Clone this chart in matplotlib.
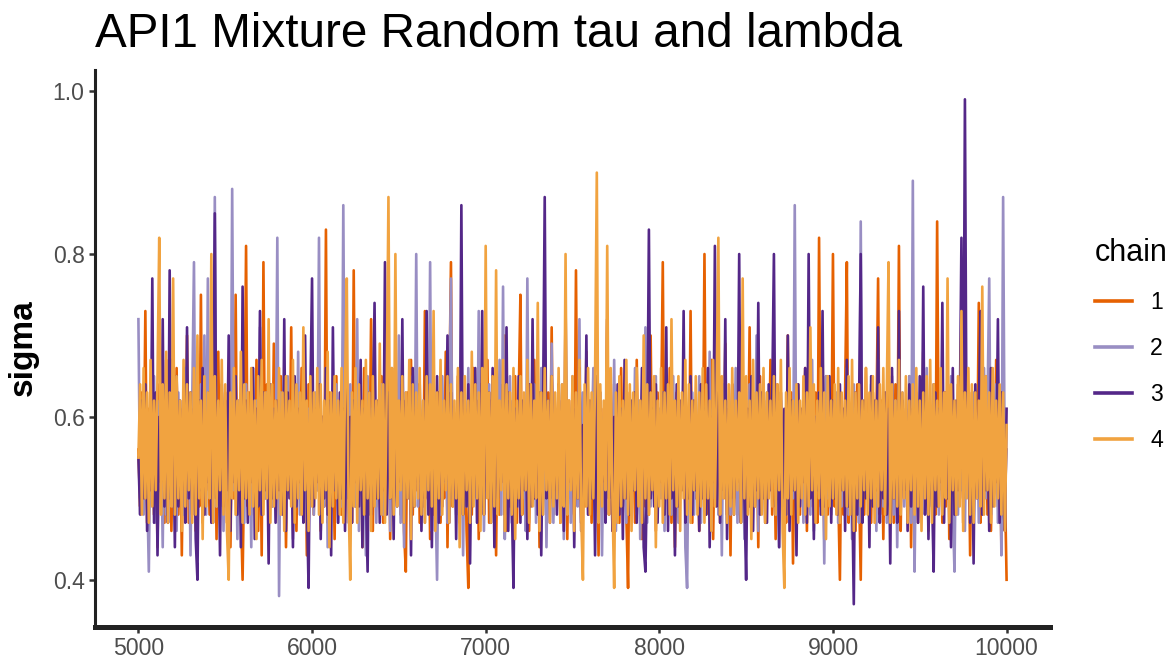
import numpy as np
import matplotlib
matplotlib.use("Agg")
import matplotlib.pyplot as plt

plt.rcParams['font.family'] = ['Liberation Sans', 'DejaVu Sans']

# trace of sigma, every 10th iteration from 5000 to 10000, in hundredths
start_iter = 5000
thin = 10

chain1 = [
    56, 49, 63, 51, 73, 47, 61, 50, 65, 48, 59, 44, 64, 52, 60, 47, 67, 50, 62, 46,
    58, 51, 66, 48, 61, 43, 63, 50, 70, 47, 60, 52, 64, 46, 59, 49, 75, 47, 62, 51,
    57, 48, 64, 50, 61, 45, 68, 49, 60, 52, 63, 47, 66, 44, 61, 50, 75, 48, 62, 49,
    40, 55, 81, 49, 63, 48, 60, 51, 67, 46, 62, 43, 79, 50, 64, 47, 61, 49, 69, 52,
    58, 47, 65, 50, 62, 44, 60, 52, 71, 48, 63, 46, 59, 51, 66, 49, 61, 43, 64, 50,
    57, 48, 62, 51, 67, 46, 60, 49, 83, 47, 63, 50, 58, 45, 65, 52, 61, 48, 70, 47,
    62, 50, 59, 47, 78, 49, 64, 52, 60, 44, 66, 48, 61, 51, 72, 46, 63, 49, 58, 50,
    65, 47, 61, 51, 68, 45, 62, 49, 59, 52, 64, 48, 60, 46, 41, 63, 50, 67, 48, 61,
    51, 64, 47, 60, 49, 73, 50, 62, 45, 66, 48, 61, 52, 63, 47, 59, 50, 68, 44, 62,
    79, 49, 60, 51, 65, 47, 63, 50, 58, 46, 39, 61, 48, 66, 52, 62, 45, 64, 49, 60,
    51, 67, 47, 62, 50, 59, 43, 64, 48, 61, 52, 70, 46, 63, 49, 60, 51, 65, 47, 62,
    75, 48, 61, 50, 64, 46, 60, 52, 67, 49, 62, 44, 59, 51, 66, 47, 63, 50, 71, 48,
    60, 52, 64, 47, 61, 49, 66, 45, 62, 50, 59, 48, 78, 51, 63, 46, 60, 49, 68, 50,
    62, 47, 65, 51, 59, 43, 63, 49, 61, 52, 72, 48, 60, 46, 64, 50, 58, 47, 66, 51,
    61, 48, 39, 63, 50, 60, 47, 67, 52, 62, 45, 59, 49, 64, 48, 70, 51, 61, 46, 63,
    50, 59, 79, 48, 62, 51, 66, 47, 60, 44, 63, 49, 58, 52, 65, 48, 61, 50, 73, 47,
    62, 50, 59, 46, 64, 51, 80, 48, 61, 49, 67, 45, 60, 52, 63, 47, 59, 50, 69, 48,
    61, 43, 64, 50, 60, 48, 66, 51, 62, 47, 58, 52, 71, 46, 63, 49, 60, 44, 65, 50,
    59, 47, 62, 51, 67, 48, 60, 45, 64, 50, 61, 52, 58, 47, 70, 49, 63, 42, 61, 50,
    64, 48, 60, 52, 66, 46, 62, 49, 59, 51, 63, 47, 82, 50, 61, 45, 65, 48, 60, 52,
    80, 49, 62, 51, 40, 60, 48, 63, 79, 47, 61, 50, 58, 46, 64, 52, 40, 62, 48, 66,
    50, 61, 47, 63, 52, 59, 77, 48, 62, 45, 60, 51, 66, 49, 61, 47, 64, 50, 81, 46,
    62, 50, 59, 48, 65, 44, 61, 52, 63, 47, 60, 49, 68, 51, 62, 46, 59, 50, 64, 48,
    84, 51, 60, 47, 63, 49, 66, 45, 61, 52, 59, 48, 64, 50, 72, 47, 62, 51, 60, 43,
    63, 49, 61, 52, 74, 47, 60, 50, 65, 48, 62, 46, 59, 51, 67, 49, 61, 44, 64, 52,
    40,
]

chain2 = [
    72, 50, 61, 48, 63, 52, 41, 60, 49, 65, 47, 62, 51, 59, 44, 64, 48, 61, 50, 67,
    49, 60, 46, 63, 51, 58, 48, 66, 50, 61, 43, 62, 79, 47, 60, 52, 64, 49, 70, 48,
    77, 51, 62, 47, 87, 49, 60, 52, 63, 46, 59, 50, 65, 48, 88, 51, 61, 45, 62, 50,
    60, 47, 64, 51, 59, 44, 66, 49, 62, 52, 71, 48, 60, 50, 63, 46, 61, 49, 58, 52,
    82, 38, 63, 50, 61, 47, 65, 51, 59, 45, 62, 49, 68, 48, 60, 52, 64, 46, 61, 50,
    59, 48, 63, 51, 82, 47, 60, 49, 66, 44, 62, 50, 58, 52, 64, 47, 61, 49, 86, 50,
    61, 47, 64, 52, 59, 49, 72, 46, 62, 50, 60, 43, 65, 48, 61, 51, 63, 47, 59, 50,
    64, 48, 61, 52, 58, 46, 66, 49, 62, 50, 70, 47, 60, 44, 63, 51, 59, 48, 65, 50,
    80, 49, 61, 52, 62, 47, 59, 50, 79, 46, 63, 51, 40, 60, 48, 65, 52, 61, 47, 62,
    77, 50, 60, 48, 64, 51, 59, 43, 62, 49, 66, 47, 61, 52, 58, 50, 73, 48, 63, 46,
    60, 51, 64, 47, 59, 49, 62, 52, 67, 48, 76, 45, 60, 50, 65, 47, 62, 51, 59, 49,
    63, 50, 60, 46, 77, 49, 61, 52, 64, 47, 59, 51, 66, 48, 62, 44, 60, 50, 69, 47,
    61, 52, 58, 48, 64, 45, 62, 50, 60, 47, 65, 51, 59, 49, 72, 46, 63, 50, 61, 48,
    59, 51, 66, 47, 61, 49, 63, 43, 60, 52, 64, 48, 58, 50, 67, 46, 62, 51, 60, 49,
    64, 47, 61, 50, 59, 52, 66, 48, 62, 45, 60, 51, 71, 47, 63, 49, 58, 50, 65, 48,
    61, 50, 63, 46, 60, 52, 59, 48, 65, 49, 62, 47, 60, 51, 64, 44, 39, 61, 50, 63,
    48, 60, 51, 65, 47, 62, 49, 59, 52, 68, 46, 61, 50, 63, 48, 60, 43, 64, 51, 59,
    62, 48, 60, 51, 66, 47, 59, 50, 63, 45, 61, 52, 64, 48, 60, 49, 70, 46, 62, 51,
    59, 47, 63, 50, 61, 52, 65, 48, 60, 44, 62, 49, 58, 51, 64, 47, 61, 50, 86, 48,
    62, 50, 59, 47, 64, 51, 61, 48, 67, 46, 60, 52, 63, 49, 59, 42, 65, 50, 61, 48,
    60, 51, 63, 47, 62, 49, 59, 52, 66, 48, 61, 45, 64, 50, 60, 47, 84, 49, 62, 51,
    59, 48, 64, 50, 61, 46, 67, 52, 60, 49, 63, 47, 58, 51, 65, 48, 62, 44, 60, 50,
    63, 49, 61, 51, 65, 47, 89, 41, 60, 52, 62, 48, 59, 50, 66, 47, 61, 49, 64, 51,
    60, 48, 63, 50, 59, 52, 62, 47, 65, 49, 41, 61, 48, 60, 51, 64, 46, 62, 50, 59,
    48, 63, 51, 60, 47, 62, 49, 66, 50, 61, 77, 48, 59, 52, 64, 47, 61, 43, 87, 50,
    56,
]

chain3 = [
    55, 48, 62, 50, 64, 46, 59, 51, 77, 47, 63, 43, 60, 52, 72, 49, 61, 47, 78, 50,
    60, 44, 65, 49, 62, 51, 58, 47, 71, 50, 63, 48, 61, 45, 40, 62, 51, 66, 48, 60,
    52, 63, 47, 61, 85, 50, 59, 43, 64, 49, 62, 51, 70, 46, 60, 52, 65, 48, 61, 44,
    76, 50, 62, 47, 60, 52, 66, 45, 61, 49, 73, 48, 63, 51, 59, 42, 64, 50, 61, 47,
    62, 51, 59, 48, 72, 46, 63, 50, 60, 44, 65, 49, 61, 52, 58, 47, 70, 50, 39, 62,
    77, 49, 61, 52, 64, 45, 60, 50, 66, 48, 62, 43, 71, 51, 59, 47, 63, 50, 61, 46,
    64, 50, 60, 47, 62, 52, 59, 49, 67, 44, 61, 51, 41, 63, 48, 60, 74, 50, 62, 47,
    60, 51, 79, 48, 63, 50, 61, 45, 65, 49, 59, 52, 72, 47, 62, 50, 60, 43, 66, 49,
    61, 52, 64, 46, 59, 50, 73, 48, 62, 44, 60, 51, 65, 47, 61, 49, 58, 52, 70, 47,
    63, 50, 60, 45, 62, 51, 86, 48, 61, 49, 64, 42, 59, 52, 66, 47, 62, 50, 73, 48,
    60, 51, 63, 47, 66, 44, 61, 50, 59, 52, 64, 48, 71, 46, 62, 50, 39, 61, 49, 65,
    47, 62, 51, 60, 45, 64, 49, 72, 50, 61, 48, 63, 43, 60, 87, 50, 62, 47, 65, 51,
    59, 48, 64, 50, 62, 46, 74, 49, 60, 52, 63, 44, 61, 50, 66, 47, 59, 51, 70, 48,
    62, 50, 60, 43, 65, 49, 61, 52, 58, 47, 72, 50, 63, 46, 60, 51, 64, 48, 61, 45,
    67, 50, 59, 48, 62, 51, 63, 47, 60, 52, 66, 44, 41, 55, 83, 50, 61, 49, 64, 47,
    60, 52, 63, 48, 71, 46, 61, 50, 59, 43, 64, 49, 62, 51, 73, 47, 60, 50, 65, 48,
    62, 51, 59, 46, 64, 50, 61, 48, 66, 44, 60, 52, 81, 49, 63, 47, 60, 51, 72, 45,
    61, 50, 64, 48, 59, 52, 80, 47, 62, 50, 40, 61, 49, 65, 46, 60, 51, 74, 48, 63,
    50, 60, 47, 64, 51, 62, 80, 49, 59, 44, 63, 50, 61, 48, 70, 46, 62, 51, 60, 43,
    64, 49, 61, 52, 66, 47, 80, 50, 62, 45, 60, 51, 63, 48, 73, 49, 59, 52, 65, 47,
    62, 50, 59, 48, 64, 51, 61, 46, 67, 49, 60, 52, 37, 63, 48, 61, 80, 47, 62, 50,
    60, 44, 65, 49, 62, 51, 71, 47, 59, 50, 63, 48, 61, 42, 66, 50, 60, 47, 73, 49,
    62, 51, 59, 46, 64, 49, 61, 52, 60, 47, 65, 50, 76, 48, 62, 45, 60, 51, 41, 63,
    49, 61, 52, 74, 47, 63, 50, 60, 44, 66, 48, 62, 51, 59, 82, 50, 99, 54, 62, 47,
    60, 42, 64, 50, 61, 73, 48, 62, 51, 59, 46, 66, 49, 60, 52, 72, 47, 63, 50, 46,
    61,
]

chain4 = [
    55, 64, 48, 66, 50, 63, 47, 67, 49, 62, 51, 65, 82, 48, 64, 50, 68, 47, 63, 49,
    77, 48, 65, 50, 62, 46, 67, 49, 64, 51, 63, 47, 66, 48, 70, 50, 62, 45, 65, 49,
    63, 50, 80, 47, 65, 49, 62, 51, 67, 48, 64, 46, 40, 63, 50, 66, 48, 62, 51, 68,
    47, 64, 50, 63, 48, 66, 49, 62, 45, 65, 51, 67, 48, 63, 50, 72, 47, 64, 49, 62,
    50, 66, 48, 63, 46, 65, 51, 62, 49, 67, 47, 64, 50, 63, 48, 71, 51, 62, 46, 65,
    49, 63, 50, 66, 48, 64, 47, 62, 51, 68, 44, 63, 49, 65, 50, 62, 48, 66, 47, 64,
    77, 50, 40, 63, 49, 66, 47, 64, 51, 62, 48, 67, 50, 63, 46, 65, 49, 62, 50, 69,
    48, 64, 47, 63, 87, 50, 66, 48, 80, 49, 62, 51, 65, 47, 63, 50, 67, 45, 64, 49,
    63, 50, 66, 48, 62, 47, 65, 51, 64, 49, 73, 46, 63, 50, 67, 48, 62, 51, 65, 47,
    64, 49, 62, 50, 66, 44, 63, 48, 65, 51, 62, 47, 68, 49, 64, 50, 63, 46, 66, 48,
    81, 50, 63, 47, 65, 49, 78, 48, 62, 51, 67, 46, 64, 50, 63, 48, 66, 45, 62, 50,
    65, 48, 63, 51, 67, 47, 64, 49, 62, 50, 74, 46, 63, 48, 66, 51, 62, 47, 65, 49,
    63, 50, 66, 47, 64, 49, 80, 48, 62, 51, 65, 46, 63, 50, 67, 48, 40, 64, 49, 66,
    48, 63, 50, 65, 90, 47, 64, 49, 62, 51, 81, 48, 66, 50, 39, 63, 47, 65, 49, 62,
    50, 67, 48, 64, 46, 63, 51, 66, 49, 62, 47, 70, 50, 64, 48, 63, 51, 65, 44, 62,
    49, 66, 47, 63, 50, 64, 48, 72, 51, 62, 49, 65, 46, 63, 50, 67, 48, 64, 47, 62,
    51, 65, 48, 63, 49, 66, 47, 64, 50, 62, 46, 67, 49, 63, 82, 48, 65, 50, 62, 47,
    64, 49, 66, 48, 62, 51, 63, 47, 77, 50, 65, 48, 62, 45, 67, 49, 63, 50, 64, 48,
    66, 47, 63, 50, 62, 49, 65, 48, 64, 51, 67, 46, 39, 63, 50, 66, 48, 62, 51, 64,
    47, 62, 50, 65, 48, 63, 49, 71, 51, 64, 47, 62, 50, 66, 48, 63, 45, 65, 49, 62,
    50, 64, 48, 66, 47, 63, 51, 62, 49, 65, 48, 67, 46, 63, 50, 64, 49, 62, 51, 66,
    48, 63, 50, 65, 47, 62, 49, 64, 51, 66, 48, 63, 79, 47, 64, 50, 62, 49, 67, 48,
    63, 50, 65, 47, 62, 51, 64, 48, 66, 49, 62, 46, 63, 50, 65, 48, 67, 47, 64, 51,
    62, 49, 66, 48, 63, 50, 77, 47, 64, 51, 62, 48, 65, 49, 73, 46, 63, 50, 66, 48,
    64, 47, 63, 50, 62, 49, 76, 48, 65, 51, 63, 47, 66, 49, 62, 50, 64, 48, 63, 46,
    59,
]

chains = [chain1, chain2, chain3, chain4]
chain_labels = ['1', '2', '3', '4']
colors = ['#e66101', '#998ec3', '#542788', '#f1a340']

fig = plt.figure(figsize=(11.76, 6.65), dpi=100)
ax = fig.add_axes([95 / 1176, 1 - 627 / 665, (1050 - 95) / 1176, (627 - 70) / 665])

for vals, lab, col in zip(chains, chain_labels, colors):
    y = np.array(vals) / 100.0
    it = start_iter + thin * np.arange(len(y))
    ax.plot(it, y, color=col, lw=1.9, label=lab)

ax.set_xlim(4750, 10250)
ax.set_ylim(0.342, 1.026)
ax.set_xticks([5000, 6000, 7000, 8000, 9000, 10000])
ax.set_yticks([0.4, 0.6, 0.8, 1.0])
ax.set_yticklabels(['0.4', '0.6', '0.8', '1.0'])

for s in ['top', 'right']:
    ax.spines[s].set_visible(False)
ax.spines['left'].set_linewidth(2.2)
ax.spines['bottom'].set_linewidth(3.6)
ax.spines['left'].set_color('#222222')
ax.spines['bottom'].set_color('#222222')
ax.tick_params(axis='both', length=4.5, width=1.8, color='#333333',
               labelsize=16.6, labelcolor='#4d4d4d', pad=3)

fig.text(95 / 1176, 1 - 47 / 665, 'API1 Mixture Random tau and lambda',
         fontsize=34.3, ha='left', va='baseline')
fig.text(23 / 1176, 1 - 348 / 665, 'sigma', rotation=90, fontsize=24,
         fontweight='bold', ha='center', va='center')

leg = fig.legend(loc='upper left', bbox_to_anchor=(1095 / 1176, 1 - 238 / 665),
                 frameon=False, title='chain', fontsize=16.6, title_fontsize=22,
                 handlelength=1.6, handletextpad=0.8, labelspacing=1.0,
                 borderpad=0, borderaxespad=0)
leg._legend_box.align = 'left'
for h in leg.get_lines():
    h.set_linewidth(2.6)

fig.savefig('out.png', dpi=100)
